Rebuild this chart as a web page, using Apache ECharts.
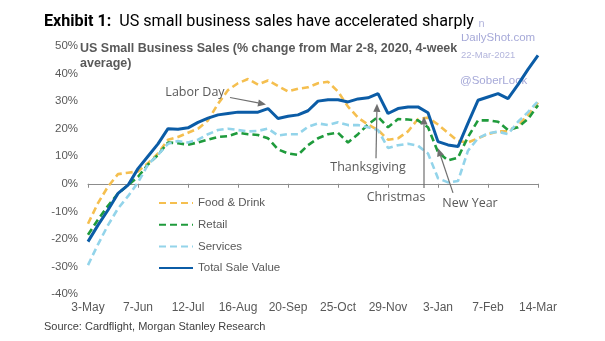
<!DOCTYPE html>
<html>
<head>
<meta charset="utf-8">
<script src="https://cdn.jsdelivr.net/npm/echarts/dist/echarts.min.js"></script>
<style>
  html, body { margin: 0; padding: 0; background: #fff; }
  #chart { width: 605px; height: 341px; }
</style>
</head>
<body>
<div id="chart"></div>
<script>
// Weekly periods (week starting), May 2020 – Mar 2021
const weeks = [
  '3-May', '10-May', '17-May', '24-May', '31-May',
  '7-Jun', '14-Jun', '21-Jun', '28-Jun', '5-Jul',
  '12-Jul', '19-Jul', '26-Jul', '2-Aug', '9-Aug',
  '16-Aug', '23-Aug', '30-Aug', '6-Sep', '13-Sep',
  '20-Sep', '27-Sep', '4-Oct', '11-Oct', '18-Oct',
  '25-Oct', '1-Nov', '8-Nov', '15-Nov', '22-Nov',
  '29-Nov', '6-Dec', '13-Dec', '20-Dec', '27-Dec',
  '3-Jan', '10-Jan', '17-Jan', '24-Jan', '31-Jan',
  '7-Feb', '14-Feb', '21-Feb', '28-Feb', '7-Mar',
  '14-Mar'
];

// % change from Mar 2-8, 2020 (4-week average)
const foodDrink = [
  -14.5, -7, -1, 3.5, 4, 4.5, 7.5, 11, 16, 17,
  18.5, 20, 23, 29, 34, 36.5, 38, 36, 37.5, 35.5,
  33.5, 34.5, 35, 36.5, 37, 33.5, 28, 24, 21.5, 19.5,
  16, 16.5, 19, 23.5, 24, 21.5, 18.5, 15.5, 15, 16.5,
  18, 19, 19, 21, 25, 29.5
];
const retail = [
  -18.5, -13, -8, -3.5, -0.5, 2.5, 7, 10.5, 15, 14.7,
  14.2, 15, 16, 17, 17.3, 18.5, 18, 17.7, 16.5, 12.5,
  11, 10.5, 14, 16.5, 18, 18.5, 15, 18, 21.5, 24.3,
  20.5, 23.5, 23.3, 23, 20.5, 11.5, 8.5, 9.5, 17, 23,
  23, 22.5, 19.5, 20.5, 23.5, 28.5
];
const services = [
  -29.5, -22, -15, -9, -4.5, 0.5, 7, 10.5, 14.5, 15.5,
  15, 16, 18, 19.5, 20, 19.5, 19, 19.2, 20, 17.5,
  18, 18, 20.7, 21.9, 21.3, 22.3, 21.3, 21.3, 20.5, 19.5,
  13, 14, 14.5, 13.8, 11, 2, 0.5, 1, 12, 16.5,
  18.3, 18.9, 18, 22.5, 26, 30
];
const totalSales = [
  -21, -15, -9.5, -3.5, -0.5, 5.5, 10, 14.5, 20, 19.8,
  20.3, 22.3, 23.8, 25, 25.5, 26, 26, 26, 27.3, 23.7,
  24.5, 25, 26.5, 30, 30.5, 30.5, 29.7, 30.8, 31.2, 32.7,
  25.5, 27.3, 27.9, 27.9, 25.8, 15.3, 14.1, 13.5, 22, 30.3,
  31.5, 32.7, 30.9, 36, 41.5, 46.6
];

const seriesNames = ['Food & Drink', 'Retail', 'Services', 'Total Sale Value'];
const yTicks = { min: -40, max: 50, step: 10 };

// Holiday call-outs: label anchor and arrow (tail -> head) in [week index, %] space
const holidays = [
  { text: 'Labor Day',    label: [10.7, 33.2], tail: [14.2, 31.3], head: [17.8, 28.8] },
  { text: 'Thanksgiving', label: [28.0, 5.8],  tail: [28.8, 9.3],  head: [28.9, 29.0] },
  { text: 'Christmas',    label: [30.8, -4.8], tail: [33.6, -1.5], head: [33.6, 24.4] },
  { text: 'New Year',     label: [38.2, -7.0], tail: [36.5, -3.3], head: [35.0, 12.9] }
];

const titleBold = 'Exhibit 1:';
const titleRest = '  US small business sales have accelerated sharply';
const sourceNote = 'Source: Cardflight, Morgan Stanley Research';

const grey = '#595959';
const sans = '"Liberation Sans", Arial, sans-serif';
const titleFamily = 'Roboto, "Liberation Sans", sans-serif';
const dashStyle = [7, 4];

const chart = echarts.init(document.getElementById('chart'), null, { renderer: 'canvas' });

function lineSeries(name, data, color, dashed) {
  return {
    name: name,
    type: 'line',
    data: data,
    symbol: 'none',
    smooth: false,
    xAxisIndex: 0,
    lineStyle: {
      color: color,
      width: dashed ? 2.6 : 3,
      type: dashed ? dashStyle : 'solid'
    },
    itemStyle: { color: color },
    emphasis: { disabled: true },
    z: dashed ? 3 : 4
  };
}

const option = {
  animation: false,
  backgroundColor: '#ffffff',
  grid: {
    left: 88,
    right: 67,
    top: 46,
    bottom: 47,
    containLabel: false
  },
  legend: {
    orient: 'vertical',
    left: 158,
    top: 197,
    padding: 0,
    itemWidth: 34,
    itemHeight: 14,
    itemGap: 9.7,
    data: seriesNames,
    itemStyle: { opacity: 0 },
    textStyle: { color: grey, fontSize: 11.5, fontFamily: sans }
  },
  xAxis: [
    {
      // tick labels along the bottom edge
      type: 'category',
      data: weeks,
      boundaryGap: false,
      position: 'bottom',
      axisLine: { show: false, onZero: false },
      axisTick: { show: false },
      splitLine: { show: false },
      axisLabel: {
        interval: 4,
        color: grey,
        fontSize: 12,
        fontFamily: sans,
        margin: 8
      }
    },
    {
      // the 0% baseline with its ticks
      type: 'category',
      data: weeks,
      boundaryGap: false,
      position: 'bottom',
      axisLine: { show: true, onZero: true, lineStyle: { color: '#8c8c8c', width: 1 } },
      axisTick: { show: true, interval: 4, length: 4, lineStyle: { color: '#8c8c8c', width: 1 } },
      axisLabel: { show: false },
      splitLine: { show: false }
    }
  ],
  yAxis: {
    type: 'value',
    min: yTicks.min,
    max: yTicks.max,
    interval: yTicks.step,
    axisLine: { show: false },
    axisTick: { show: false },
    splitLine: { show: false },
    axisLabel: {
      formatter: '{value}%',
      color: grey,
      fontSize: 11.5,
      fontFamily: sans,
      margin: 10
    }
  },
  series: [
    lineSeries(seriesNames[0], foodDrink, '#f5bf4f', true),
    lineSeries(seriesNames[1], retail, '#1f9b3c', true),
    lineSeries(seriesNames[2], services, '#93d4ea', true),
    lineSeries(seriesNames[3], totalSales, '#0b5ca6', false)
  ]
};

chart.setOption(option);

// Pixel position of a fractional week index / value pair
function toPixel(pt) {
  const i0 = Math.floor(pt[0]);
  const a = chart.convertToPixel({ gridIndex: 0 }, [i0, pt[1]]);
  const b = chart.convertToPixel({ gridIndex: 0 }, [i0 + 1, pt[1]]);
  const f = pt[0] - i0;
  return [a[0] + (b[0] - a[0]) * f, a[1]];
}

function arrow(tail, head, color) {
  const p0 = toPixel(tail), p1 = toPixel(head);
  const dx = p1[0] - p0[0], dy = p1[1] - p0[1];
  const len = Math.sqrt(dx * dx + dy * dy);
  const ux = dx / len, uy = dy / len;
  const hl = 8, hw = 3.6;
  const bx = p1[0] - ux * hl, by = p1[1] - uy * hl;
  return [
    {
      type: 'line',
      shape: { x1: p0[0], y1: p0[1], x2: bx, y2: by },
      style: { stroke: color, lineWidth: 1.2 },
      z: 20
    },
    {
      type: 'polygon',
      shape: {
        points: [
          [p1[0], p1[1]],
          [bx - uy * hw, by + ux * hw],
          [bx + uy * hw, by - ux * hw]
        ]
      },
      style: { fill: color },
      z: 20
    }
  ];
}

// Horizontal squeeze so the headline fits its band (condensed look)
const titleSize = 17;
const titleWidth = 430;
const measure = document.createElement('canvas').getContext('2d');
measure.font = 'bold ' + titleSize + 'px ' + titleFamily;
let natural = measure.measureText(titleBold).width;
measure.font = titleSize + 'px ' + titleFamily;
natural += measure.measureText(titleRest).width;
const squeeze = Math.min(1, titleWidth / natural);

const graphics = [];

// DailyShot credits (sit beneath the headline band)
graphics.push({
  type: 'text', left: 435, top: 18, z: 1,
  style: { text: 'Posted on', fill: '#b3b5dc', font: '11px ' + sans }
});
graphics.push({
  type: 'text', left: 461, top: 32, z: 1,
  style: { text: 'DailyShot.com', fill: '#a6a9d8', font: '11.5px ' + sans }
});
graphics.push({
  type: 'text', left: 461, top: 50, z: 1,
  style: { text: '22-Mar-2021', fill: '#b3b5dc', font: '9.5px ' + sans }
});
graphics.push({
  type: 'text', left: 460, top: 75, z: 1,
  style: { text: '@SoberLook', fill: '#a6a9d8', font: '11.5px ' + sans }
});

// headline band and headline
graphics.push({
  type: 'rect', z: 5,
  shape: { x: 40, y: 11, width: 438, height: 23 },
  style: { fill: '#ffffff' }
});
graphics.push({
  type: 'text',
  x: 44,
  y: 22,
  scaleX: squeeze,
  z: 6,
  style: {
    text: '{b|' + titleBold + '}' + titleRest,
    font: titleSize + 'px ' + titleFamily,
    fill: '#000000',
    verticalAlign: 'middle',
    rich: {
      b: { font: 'bold ' + titleSize + 'px ' + titleFamily, fill: '#000000' }
    }
  }
});

// chart subtitle
graphics.push({
  type: 'text',
  left: 80,
  top: 41,
  z: 15,
  style: {
    text: 'US Small Business Sales (% change from Mar 2-8, 2020, 4-week\naverage)',
    fill: grey,
    font: 'bold 12.5px ' + sans,
    lineHeight: 15
  }
});

// source note
graphics.push({
  type: 'text',
  left: 44,
  top: 321,
  z: 15,
  style: {
    text: sourceNote,
    fill: '#404040',
    font: '11px ' + sans
  }
});

// holiday labels and arrows
holidays.forEach(function (h) {
  const p = toPixel(h.label);
  graphics.push({
    type: 'text',
    x: p[0],
    y: p[1],
    z: 20,
    style: {
      text: h.text,
      fill: grey,
      font: '12.5px "Open Sans", ' + sans,
      align: 'center',
      verticalAlign: 'middle'
    }
  });
  arrow(h.tail, h.head, '#6f6f6f').forEach(function (g) { graphics.push(g); });
});

chart.setOption({ graphic: graphics });
</script>
</body>
</html>
